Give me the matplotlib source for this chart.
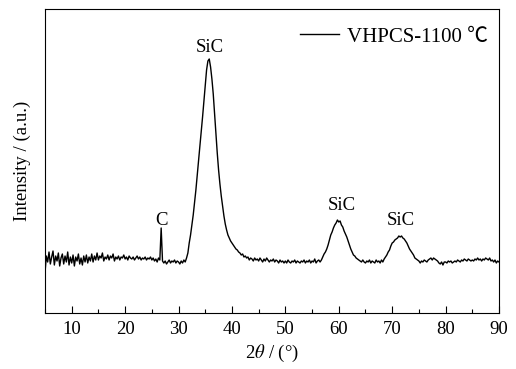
import numpy as np
import matplotlib.pyplot as plt

# 2theta from 5 to 90 deg, step 0.25
two_theta = np.arange(0, 341) * 0.25 + 5.0

# intensity (arb. units), 20 points per 5 degrees
intensity = [
    40, 57, 51, 61, 49, 56, 62, 48, 57, 52, 60, 47, 55, 59, 49, 57, 51, 61, 48, 56,
    50, 58, 47, 56, 52, 59, 49, 55, 48, 57, 51, 58, 50, 56, 52, 59, 51, 57, 53, 60,
    53, 57, 55, 60, 52, 56, 54, 58, 53, 57, 55, 59, 52, 56, 54, 57, 53, 56, 55, 58,
    54, 56, 53, 57, 55, 54, 56, 53, 55, 57, 54, 56, 53, 55, 54, 56, 53, 55, 54, 56,
    53, 55, 52, 54, 51, 55, 53, 85, 52, 50, 52, 49, 51, 53, 50, 52, 51, 53, 50, 52,
    51, 49, 52, 50, 53, 51, 55, 60, 70, 78, 88, 98, 110, 123, 138, 153, 167, 181, 196, 212,
    229, 243, 252, 254, 246, 234, 219, 199, 179, 160, 143, 129, 117, 107, 97, 89, 83, 78, 75, 72,
    70, 68, 66, 64, 63, 61, 60, 58, 59, 56, 57, 55, 56, 53, 55, 54, 52, 55, 53, 54,
    52, 55, 53, 51, 54, 52, 55, 53, 51, 53, 52, 54, 51, 53, 52, 50, 53, 51, 52, 50,
    52, 50, 53, 51, 50, 52, 51, 53, 50, 52, 51, 50, 52, 51, 53, 50, 52, 51, 53, 50,
    52, 51, 54, 50, 52, 53, 51, 53, 56, 59, 61, 64, 68, 73, 78, 81, 85, 88, 90, 93,
    91, 92, 88, 86, 82, 79, 76, 72, 68, 64, 61, 58, 57, 55, 54, 53, 52, 51, 53, 51,
    50, 52, 51, 53, 50, 52, 51, 50, 53, 51, 52, 50, 53, 51, 54, 56, 58, 61, 63, 67,
    70, 71, 73, 74, 75, 77, 76, 77, 75, 74, 72, 70, 67, 64, 62, 60, 58, 55, 54, 53,
    52, 50, 52, 51, 53, 52, 51, 53, 54, 55, 53, 55, 54, 53, 52, 50, 49, 51, 48, 51,
    51, 50, 52, 51, 52, 50, 51, 52, 51, 53, 52, 51, 53, 52, 54, 53, 52, 54, 53, 52,
    53, 52, 54, 53, 55, 53, 54, 52, 54, 53, 55, 54, 53, 55, 52, 53, 51, 53, 50, 52,
    51,
]

# peak labels: (text, 2theta, intensity)
peak_labels = [("C", 26.8, 88), ("SiC", 35.8, 261), ("SiC", 60.5, 103), ("SiC", 71.6, 88)]

plt.rcParams['font.family'] = ['Liberation Serif', 'Noto Sans CJK SC', 'DejaVu Serif']
plt.rcParams['mathtext.fontset'] = 'stix'

fig = plt.figure(figsize=(5.16, 3.69), dpi=100)
ax = fig.add_axes([45 / 516, 56 / 369, 454 / 516, 304 / 369])

ax.plot(two_theta, intensity, color='black', lw=1.0, label='VHPCS-1100 ℃')

for txt, xx, yy in peak_labels:
    ax.text(xx, yy, txt, ha='center', va='baseline', fontsize=13.5)

ax.set_xlim(5, 90)
ax.set_ylim(0, 304)
ax.set_xticks(range(10, 91, 10))
ax.set_xticks(range(5, 91, 10), minor=True)
ax.set_yticks([])
ax.tick_params(axis='x', which='major', direction='in', length=5, width=0.8,
               labelsize=13.5, pad=6, top=False)
ax.tick_params(axis='x', which='minor', direction='in', length=3, width=0.8, top=False)
for sp in ax.spines.values():
    sp.set_linewidth(0.8)

ax.set_xlabel(r'2$\it{\theta}$ / (°)', fontsize=13.5, labelpad=3)
ax.set_ylabel('Intensity / (a.u.)', fontsize=13.5, labelpad=10)

ax.legend(loc='center right', bbox_to_anchor=(0.976, 0.908), frameon=False,
          fontsize=15, handlelength=1.85, handletextpad=0.4,
          borderpad=0, borderaxespad=0)

fig.savefig('out.png', dpi=100)
